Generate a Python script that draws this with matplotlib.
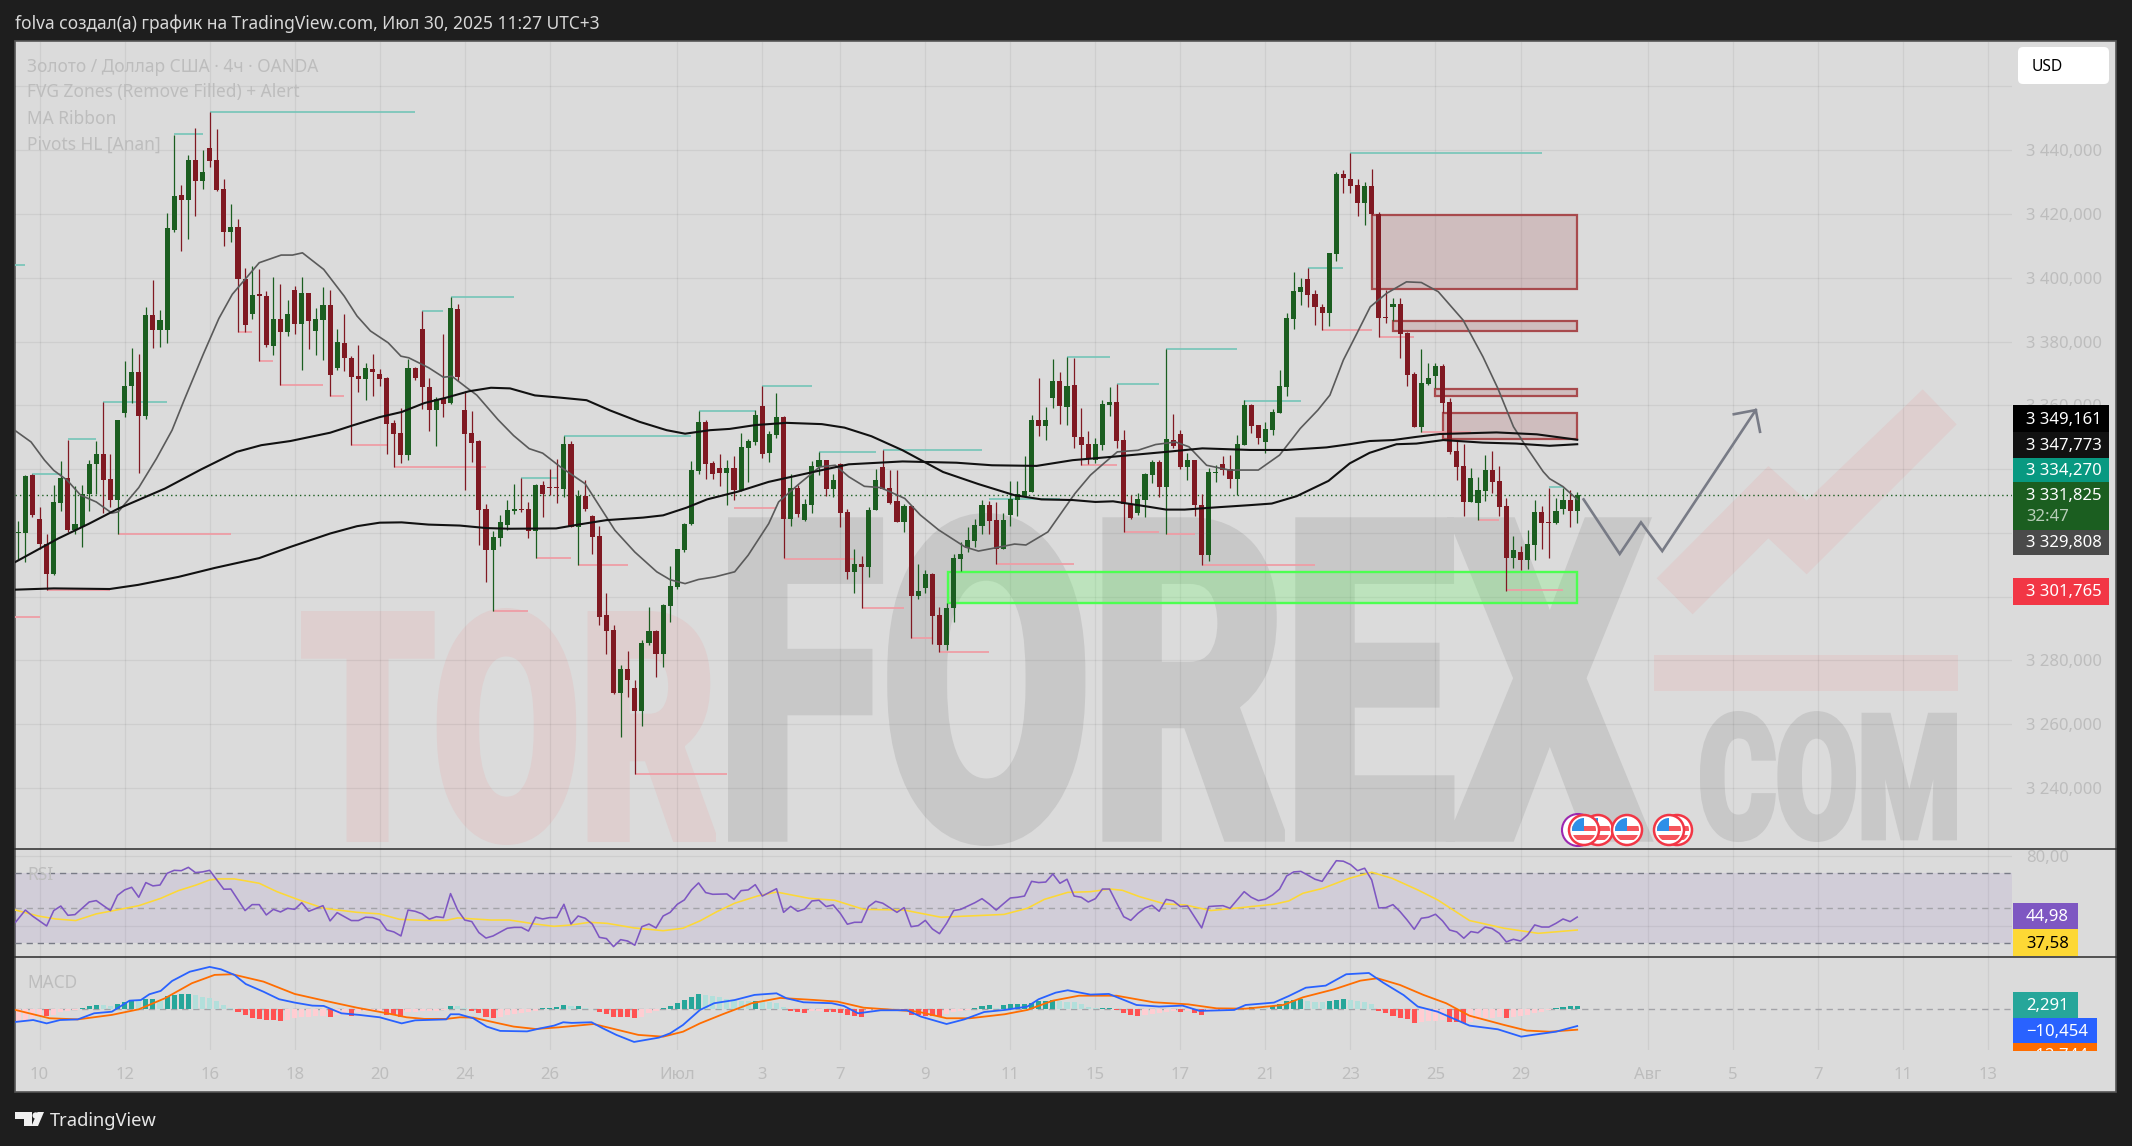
import numpy as np
import matplotlib
matplotlib.use("Agg")
import matplotlib.pyplot as plt
import matplotlib.patheffects as pe
from matplotlib.patches import Rectangle, Circle, Polygon, FancyBboxPatch
from matplotlib.transforms import Affine2D, Bbox

plt.rcParams['font.family'] = ['Noto Sans', 'DejaVu Sans']

W, H = 2132, 1146

# ---------- candles ----------
opens = [3320.0,3320,3338,3324.3,3316.6,3307,3329.3,3337.1,3321,3322,
 3332.1,3341.5,3344.6,3336.8,3330.2,3357.5,3365.9,3370.4,3356.7,3388.3,
 3383.6,3383.6,3415,3425.8,3424.5,3436.8,3430.3,3440.7,3436.8,3427.9,
 3414.3,3415.9,3399.6,3388.5,3394.6,3394.4,3378.6,3387,3382.9,3396.2,
 3385.5,3395.2,3383.4,3386.7,3391.3,3371.6,3379.6,3374.9,3369.2,3368.2,
 3371.3,3369.9,3368.6,3354.3,3351.3,3344.3,3371.7,3384,3365.8,3358.5,
 3362.2,3360.6,3390.1,3358.4,3351.2,3348.7,3327.4,3314.5,3318.4,3322.4,
 3326.8,3327.3,3327.4,3320.6,3334.9,3334.2,3334.2,3333.8,3348,3321.9,
 3331.5,3325.2,3318.9,3294.2,3289.5,3269.8,3277.4,3271.5,3264.2,3285.5,
 3289.1,3281.9,3297,3303,3314.5,3322.7,3339.4,3354.7,3341.9,3340.3,
 3338.7,3340.2,3333.4,3346.6,3348.5,3359.7,3344.9,3350.6,3356.4,3324.4,
 3334.1,3324,3328.8,3340.7,3342.8,3333.7,3341.5,3326.4,3307.8,3310.2,
 3309.4,3327.3,3340.5,3334.2,3330,3323.5,3328.4,3300.2,3302.8,3307.1,
 3294.2,3284.9,3296.4,3311.9,3315.4,3317.5,3322.1,3328.7,3324,3315,
 3325.6,3330.3,3331.7,3332.8,3355.3,3353.5,3362.2,3367.6,3359.5,3366.3,
 3350.1,3347.8,3343,3347.5,3360,3360.9,3349.1,3329.2,3326.3,3330.3,
 3338.1,3342.3,3334.4,3349.1,3351,3340.7,3342.8,3328.7,3313,3338.8,
 3341.5,3339.9,3336.8,3347.5,3360,3353.8,3348.5,3352.2,3357.6,3365.8,
 3387,3395.6,3399.6,3394.9,3390.9,3389,3407.4,3432.5,3430.8,3429,
 3423.4,3428.7,3420.1,3387.6,3390.9,3391.7,3382.7,3369.7,3353.3,3366.6,
 3369.2,3372.3,3361,3345.6,3340.9,3329.8,3329.5,3333.2,3339.7,3336.2,
 3328.4,3312.2,3314,3311.5,3316.2,3326.4,3323.3,3323,3327.5,3330.3,
 3326.8]
closes = [3320.2,3337.7,3325.5,3316.4,3307,3329.6,3337.1,3321,3322.7,3332.3,
 3341.7,3344.6,3336.5,3330.2,3355.3,3366.1,3370.4,3356.7,3388.3,3383.6,
 3386.8,3415.6,3425.6,3424.5,3436.8,3430.3,3433.2,3436.6,3427.5,3414.3,
 3415.9,3399.6,3385.3,3394.7,3394.4,3379,3387,3382.9,3388.6,3385.5,
 3395.2,3386.5,3386.9,3391.3,3369.4,3380,3374.8,3368.8,3368.2,3371.6,
 3370.4,3368.2,3354,3350.9,3344.3,3371.7,3368.6,3365.7,3358.5,3362,
 3360.4,3390.4,3368.9,3350.9,3348.3,3327.1,3314.5,3318.7,3323.3,3327.1,
 3327.4,3327.1,3320.6,3334.9,3332.1,3334,3334,3348,3321.9,3331.5,
 3327.4,3318.7,3293.6,3289.3,3269.9,3277.4,3274,3264.2,3285.6,3289.1,
 3281.9,3297.3,3303.3,3314.9,3322.9,3339.6,3354.7,3341.5,3338.4,3338.7,
 3340.3,3333.4,3346.8,3348.8,3357.1,3344.8,3350.9,3356.4,3324.4,3334.1,
 3325.9,3329,3340.9,3342.8,3333.7,3336.5,3326.3,3307.8,3310.2,3309.4,
 3327.3,3336.5,3333.9,3329.5,3323.5,3328.4,3300.3,3301.7,3307.1,3294,
 3284.9,3296.4,3312,3313.5,3317.7,3322.4,3328.7,3323.8,3315.1,3324,
 3330.6,3332.1,3333,3355.3,3353.5,3355.5,3367.6,3359.7,3366,3350.1,
 3347.5,3343.3,3347.8,3360.4,3360.9,3348.9,3329.2,3324.7,3330.6,3338.4,
 3342.3,3334.4,3349.4,3347.2,3340.7,3342.8,3328.8,3313,3339.1,3339,
 3339.7,3336.8,3347.8,3360,3353.5,3349.7,3352.5,3357.8,3366,3387.3,
 3395.8,3397,3394.6,3390.9,3389,3407.6,3432.5,3431.2,3428.7,3423.4,
 3428.7,3419.9,3387.4,3387.4,3391.7,3382.3,3369.5,3353.3,3366.9,3368.7,
 3372.3,3360.8,3345.4,3340.7,3329.8,3337.2,3333.4,3339.7,3336,3328.2,
 3312.2,3314.6,3311.5,3316.5,3326.4,3323.2,3323.2,3326.8,3330.3,3326.8,
 3331.8]
highs = [3323.6,3338,3338.5,3328,3319.8,3334.9,3342.4,3349.2,3334.6,3335.1,
 3343,3348.7,3360.9,3344.6,3355.5,3373.9,3377.9,3376,3390.9,3399.3,
 3389.9,3420.2,3444.7,3429.2,3438.6,3447,3440,3451.9,3446.7,3430.8,
 3423,3418.5,3403,3403.8,3402.8,3395.8,3400.3,3397.9,3393,3397.5,
 3400.3,3395.2,3390.4,3397.2,3396.3,3383.8,3388.5,3375.4,3379,3373.4,
 3376,3371.3,3369,3355.3,3359.3,3374.4,3372.1,3389.5,3368.6,3362.7,
 3382.3,3393.9,3391.9,3364.4,3358.1,3349,3329,3320.5,3325.5,3330.2,
 3335.2,3337.2,3329.7,3335.4,3336.2,3340.1,3343.3,3350.3,3348.7,3333.4,
 3336.5,3325.5,3322.1,3301,3291,3278.7,3282.9,3274,3286.3,3296.8,
 3289.5,3297.6,3309.5,3315,3323,3342.4,3358.2,3355.5,3342.5,3344.8,
 3343,3344,3351.2,3349.3,3358.5,3366.1,3352,3363.8,3356.6,3338.6,
 3335,3330.6,3342.6,3345.4,3343,3338.6,3342,3327.6,3315.1,3312.7,
 3328,3340,3345.9,3339.7,3339.7,3329.2,3328.7,3310.4,3308.3,3307.3,
 3296.8,3297.9,3313.5,3317,3321.9,3324.5,3330.3,3330,3329.7,3326.1,
 3336.2,3336.2,3344.2,3357.1,3368.7,3359.5,3374.4,3370.3,3375.2,3374.9,
 3359,3351.9,3349.6,3361.6,3365.6,3366.6,3352.4,3331.8,3332.6,3338.8,
 3343,3343,3377.8,3357.4,3352.2,3344.9,3343,3332.3,3340.2,3341.2,
 3344,3344.4,3350.6,3361.6,3360.4,3353.8,3354.8,3358.8,3371,3388.8,
 3401.7,3399.8,3402.9,3396.1,3391.9,3407.8,3433.2,3433.7,3439,3430.8,
 3430,3434,3420.7,3396.1,3393.5,3393.5,3383,3370.3,3377.6,3373.4,
 3373.4,3372.8,3362.4,3349.1,3347.8,3340.2,3337.4,3344.4,3345.6,3340.9,
 3330.8,3318.9,3315.9,3320.9,3330.3,3328.4,3334.2,3331,3334,3333.4,
 3332.7]
lows = [3311.9,3310.8,3325,3314.8,3302,3306.7,3327,3320.2,3319.6,3315.6,
 3327,3332.3,3326.2,3328.1,3319.5,3356.4,3360.6,3338.8,3355.8,3377.9,
 3378.4,3379.6,3414.4,3408.3,3412,3419.5,3427.7,3434.7,3427.2,3409.9,
 3411.2,3383,3383,3386.9,3373.9,3378.2,3375.8,3366.5,3381.6,3382.5,
 3371,3377.5,3375.9,3374.2,3362.9,3371,3370.7,3347.7,3364.3,3361.7,
 3363,3366,3344.6,3340.7,3341.9,3343,3368,3358.7,3352,3347.3,
 3356.2,3360.3,3367.6,3333.4,3342.2,3316.1,3304.6,3295.4,3315.8,3320.8,
 3325.8,3326.6,3318.4,3312.1,3325,3331.8,3329.4,3331.3,3321.7,3310,
 3327,3313.3,3291,3281.9,3269.4,3256,3268.6,3244.3,3259.5,3284.8,
 3274.8,3278,3292.1,3302.4,3314,3322.6,3338.4,3337,3336.8,3334.6,
 3328.7,3330.3,3333.2,3336,3347.5,3343.5,3342.3,3349.6,3312,3322.1,
 3325,3323.6,3326.3,3338.1,3331.6,3331.1,3321.9,3305.4,3301,3296.4,
 3306.2,3327.1,3333.7,3329.2,3323.4,3320.3,3287.2,3299.4,3301,3285.3,
 3282.7,3283.2,3292.1,3308.1,3314,3315.6,3319.8,3319.8,3310.2,3315,
 3322.1,3325.2,3331.7,3332.7,3350.3,3349.1,3359.3,3354.1,3353.8,3346.5,
 3341.2,3341.5,3341.8,3345.9,3356.7,3346.5,3320.3,3324.5,3325.6,3325,
 3335.5,3331.3,3319.6,3346.5,3340,3336.5,3325.2,3309.9,3311.2,3336,
 3338.1,3334.1,3331.8,3347.5,3351.4,3347.8,3345.1,3350.6,3357.6,3363,
 3383.9,3391.4,3390.9,3385.1,3383.6,3384.9,3405.3,3426.6,3426.6,3419.4,
 3416.5,3419.6,3381.5,3385.9,3386.5,3374.9,3366.1,3353.1,3351.7,3366.3,
 3365.3,3357.5,3344.7,3336.6,3325.4,3329.8,3324,3330,3332.6,3325.4,
 3301.9,3309,3308.3,3308.6,3311.5,3314.9,3312.2,3322.8,3325.9,3321.9,
 3323.2]

# ---------- moving averages ----------
gray_x = [-0.4,1.8,3.7,5,6.9,8.8,11,13.2,14.1,17,19.5,21.7,23.4,26.1,28.3,30.2,34,37.1,38.7,40.1,43.1,46,47.8,49.7,52.2,54,55.1,57.9,60,61.2,63.3,64.7,67.7,69.9,72.1,74,76.5,80,83,84.2,87,90.1,92,94.1,96,98.3,101.1,103,105.9,107.3,110,113.1,115.3,117.2,119.4,121.7,125.1,127.3,129.9,133.6,135.5,138.1,140.6,142.2,145.3,149.1,151.3,153.2,155.1,158,160.5,163.3,165.2,167.7,170.9,175,178,180.9,183.4,185.1,187,188.9,190.8,193.1,195.9,198,200.4,203.9,206.7,208.8,211,212.8,215.2,216.1,218,220]
gray_y = [3352,3348.5,3342.8,3339.6,3336.5,3331.8,3329.7,3326.2,3326.6,3334.2,3343.3,3352.2,3361.6,3376,3387.2,3394.8,3404.7,3407.1,3407.1,3407.8,3402.6,3394.2,3388,3383.3,3379.6,3375.4,3374.9,3371.8,3368.8,3369.1,3365.5,3363.2,3355.5,3350.5,3346.4,3345,3340.7,3335.4,3325,3320.8,3314,3307.8,3305.3,3304.1,3305.4,3306.2,3307.8,3313,3322.9,3329.7,3335,3340.7,3341.2,3337.6,3334.6,3334.2,3330.8,3325.6,3320.9,3315.6,3314.3,3315.4,3316.5,3316.2,3320.3,3332.3,3338.1,3341.8,3345.4,3345.9,3347.7,3348.5,3347,3341.2,3339.7,3339.7,3344.4,3352.7,3358.5,3363.2,3374.2,3382.5,3390.9,3395.1,3398.7,3398.5,3395.6,3386.7,3375.2,3365.3,3353.3,3347,3339.2,3337,3334.5,3330.5]

black_a_x = [-0.4,5.6,10,14.1,16.3,20.7,25.8,30.8,34.3,38.4,44,47.2,51,54.1,57.3,60.4,63.6,66.7,69.4,72.9,76.5,80.2,83.5,87.7,91.5,94.1,97.6,100.4,104,108.4,113.4,116.6,120.4,124.8,130.5,135.5,140.6,144.4,148.8,152,154.5,159.5,162,164.6,169,173.8,176.9,180.4,184.9,187.9,190.7,194.5,197.3,201.1,206.7,211.4,216.1,220]
black_a_y = [3310.9,3318.2,3322.9,3327.6,3329.7,3333.9,3339.9,3345.4,3347.5,3348.8,3351.4,3353.7,3356.3,3357.9,3360.7,3362.4,3364.4,3365.5,3365.3,3363.1,3362.4,3361.6,3358.4,3354.8,3352.2,3351.1,3352.2,3352.6,3353.8,3354.5,3354.1,3353,3350.3,3345.9,3339.1,3335.3,3331.8,3330.5,3330.3,3329.7,3329.9,3328.2,3327.3,3327.3,3328,3328.7,3329.2,3331.5,3336.3,3341.8,3345.1,3347.8,3348,3349.1,3348.3,3348,3347.3,3347.8]

black_b_x = [-0.4,5,12.9,16.9,22.6,27.7,34,38.4,44,47.8,51,54.1,57.9,62.3,66.1,69.3,75.9,79.3,83,88.2,91,94.3,97.2,100.4,101.5,105.9,112.2,117.2,124.8,132.4,137.4,143.7,148.8,155.1,162,167.1,173.8,179,184.6,187.9,190.7,194,197.3,200.6,203.9,208.6,214.3,220]
black_b_y = [3302.2,3302.6,3302.4,3303.7,3306.2,3309,3312.1,3315.6,3319.8,3322.1,3323.2,3323.3,3322.6,3322.3,3321.5,3321.3,3321.4,3322.7,3324,3324.8,3325.5,3327.9,3330.5,3332.3,3332.9,3336,3339.1,3341.5,3342.4,3342,3341.2,3341,3342.8,3344,3345.4,3346.5,3346,3346,3346.8,3347.8,3348.8,3349.1,3350.1,3351,3351.2,3351.5,3350.9,3349.2]

# ---------- pivots (price, from candle, to candle) ----------
pivot_high = [(3404,-0.5,1),(3338.4,2,6),(3349.3,7,11),(3360.9,12,21),(3444.9,22,26),(3451.9,27,56),(3389.5,57,60),(3394,61,70),(3337.2,71,76),(3350.5,77,95),(3358.2,96,104),(3366.1,105,112),(3345.3,113,121),(3346,122,136),(3330.5,137,147),(3375.2,148,154),(3366.6,155,161),(3377.8,162,172),(3361.5,173,181),(3403,182,187),(3439,188,215),(3334.5,216,218)]
pivot_low = [(3293.5,-0.5,3),(3302.2,4,13),(3319.5,14,30),(3383,31,33),(3374,34,36),(3366.5,37,43),(3362.9,44,46),(3347.7,47,52),(3340.6,53,66),(3295.4,67,72),(3312.1,73,78),(3310,79,86),(3244.3,87,100),(3327.8,101,107),(3311.9,108,118),(3296.4,119,125),(3287.2,126,129),(3282.7,130,137),(3310.2,138,149),(3341.3,150,155),(3320.4,156,161),(3319.7,162,166),(3309.9,167,183),(3383.6,184,191),(3381.5,192,197),(3351.6,198,205),(3324,206,209),(3302,210,218)]

# ---------- FVG zones (top, bottom, from candle, to candle) ----------
fvg_red = [(3419.6,3396.4,191,220),(3386.5,3383.3,194,220),(3365.2,3362.9,200,220),(3357.7,3349.4,201,220)]
fvg_green = [(3307.6,3298,131.2,220)]

# ---------- drawn arrow ----------
arrow_x = [220.9,226,229,232,245.2]
arrow_y = [3330.5,3313.4,3323.3,3314.3,3358.5]
head_x = [242.1,245.2,245.8]
head_y = [3357.2,3358.5,3351.7]

# ---------- RSI ----------
rsi_x = [-0.4,1,2,4,5,6,7,8,9,10,11,13,14,15,16,17,18,19,20,21,22,23,24,25,26,27,29,30,32,33,34,35,36,37,38,39,40,41,43,44,45,47,48,49,50,51,52,53,54,55,56,57,58,59,60,61,62,63,64,65,66,67,69,70,71,72,73,74,75,76,77,78,79,80,81,82,83,84,85,86,87,88,89,90,91,92,93,94,95,96,
 97,98,100,101,102,103,104,105,107,108,109,110,111,112,113,114,115,116,117,118,119,120,121,122,124,125,126,127,128,129,130,131,132,133,134,135,136,137,138,139,140,141,142,143,144,145,146,147,148,149,150,151,152,153,154,156,157,158,159,160,161,162,163,164,165,167,168,169,170,171,173,174,175,176,177,178,179,180,181,182,183,184,186,187,188,189,190,191,192,193,194,195,196,197,198,199,200,201,202,203,204,205,206,207,208,209,210,211,212,213,214,215,216,217,218,219,220]
rsi_y = [42,49,45.6,39.9,48.7,51.3,46,46.4,50,53.6,54.4,48.7,57.4,60.5,62,56.3,64.7,62.8,63.3,70,71.7,71.5,73.4,70.4,70.8,71.7,60.9,61,48.7,52.1,52.1,46.2,49.4,47.9,50,49.4,53.2,48.3,51.5,42.8,47.5,43,43,44.9,44.7,43.3,37.6,36.5,34.2,49,48.3,46.8,43.8,45.2,44.7,58.4,49,43.3,42.4,36.1,33,34.2,38.6,39.1,39.1,37,44.9,43.9,44.7,44.7,52.3,41,45.6,44.3,41,33.4,32.7,28.1,32.1,31.3,28.9,39.5,41,38.8,45.6,47.7,52.3,54.8,60.5,64.5,
 59,58,58.2,55.1,60.1,60.5,63.5,57,61.2,47.7,51.1,48.3,49.6,54.2,54.6,51,51.9,47.1,40.9,42,42,51,54,52.9,47.7,50.4,39.5,40.1,43.1,38.2,35.5,41.4,48.7,49.4,51.3,53.2,55.5,52.5,49,52.5,55.9,56.3,57,65.4,64.7,65,69.6,64.3,66.6,57,56.3,53.6,55.5,61,61,45.2,43.1,47.1,50.2,51.7,48.3,55.1,54.2,51,51.3,38.8,51,51.3,51.5,50,59.5,56.3,54.4,55.2,57.6,61,68.5,70.8,71.1,68.9,66.6,65.4,77.2,76.9,75,71.5,72.9,66.2,50.2,50.4,52.1,48.1,43.3,38,44.3,44.9,46.6,42.8,37.6,36.5,32.9,36.7,36,39.3,38.4,35.7,30.8,32.3,31.3,34.8,40.5,39.3,39.3,41.4,43.9,42.4,44.98]
rsi_ma_x = [-0.4,2.8,5.3,8.1,11,13.2,17,20.1,22.6,25.1,27,28.3,30.5,34,36.5,39.6,43.1,47.8,51,53.8,57.3,60.4,62,66.7,69.3,73,75.6,78.1,80.6,83.1,86.9,91,93.8,96.2,98.6,101.1,104.3,107,111.6,115.2,119.3,125,130.2,139.1,142.4,144.8,148.1,151.3,154.1,155.8,158.2,161.8,164.7,168.3,171.6,177.2,179.3,181.3,184.1,187.8,191,193.9,197.5,200.3,204.8,209.7,214.5,220]
rsi_ma_y = [49,45.6,43.9,43,46.8,48.5,51.5,55.7,60.1,63.3,66.2,66.8,66.8,64.3,59.5,54.8,50,47.7,46.8,43.7,43.1,43.1,44.5,43.3,43.3,41,39.7,40.5,42,41.4,38.8,37.2,38.6,42.8,48.1,52.9,57,59.3,55.7,54.6,49.4,49,44.9,46.5,50,55.1,59.1,59.5,61,60.3,56.7,52.5,51.9,48.7,50,52.3,54.2,58.6,61.4,67.1,70.6,67.1,60.5,54.8,43,38.6,35.7,37.58]

# ---------- MACD ----------
macd_x = [-0.4,2.1,4,5.9,8.4,10.7,13.2,15.7,17.3,18.5,20.1,21.7,24.2,27,28.6,30.5,32.1,34.6,36.8,39,41.5,43.1,45.6,48.1,51,54.1,56,60.4,61,62.2,64.2,66.1,68,71.8,73.7,75.6,76.9,78.1,80.9,82.5,84.4,86.9,90.4,92,93.8,96.2,98.2,101.1,103.9,107,108.4,110.8,114.8,116.5,118.5,121.7,125.4,127.4,131,133.5,136.3,139.2,142.4,144,146.4,148.1,151.3,153.9,157.8,161,164.3,166.7,171.6,173.2,177.2,179.3,181.7,184.5,187.4,190.6,192.6,195.5,197.5,200.3,204.8,208.8,212.1,213.7,217,220]
macd_y = [-7.9,-6.7,-8.8,-6.7,-6.3,-2.5,-1.5,5.4,5.8,9.4,11.5,17.7,23.5,26.5,25,21.5,15.8,11,6.3,4.2,2.3,2.1,-2.5,-3.5,-5,-8.8,-6.9,-6.3,-3.1,-3.1,-5.6,-10.8,-13.5,-13.8,-11.9,-10.2,-8.1,-8.5,-8.1,-11.9,-16,-20.4,-17.7,-15,-9.8,-0.4,3.8,5.8,9,10,6.9,4.4,3.8,2.1,-2.5,-0.6,-0.6,-4.6,-9.2,-6.3,-1.7,-0.4,1.7,6.3,10.4,11.9,9.2,9.6,2.7,1.7,2.3,-1,-0.4,2.7,4.2,8.3,13.5,14.8,21.9,22.7,16.7,8.9,1.7,-1.5,-10.2,-12.5,-17.1,-16,-14,-10.454]
signal_x = [-0.4,4.4,8.4,13.2,17,20.7,24.5,27.7,30.2,34.6,39,43.4,47.8,51.6,54.8,57.3,60.4,62.3,64.2,66.7,69.9,73,76.2,81.2,83.7,87.5,91,93.8,96.2,99.4,103.5,107.5,112.4,115.6,119.3,123.8,127,131,134.3,139.2,142.4,146,149.7,155,160.2,165.1,169.1,173.2,178.5,181.3,185.7,189.4,191.8,195,198.3,201.5,204.8,209.7,212.9,216.1,220]
signal_y = [-0.4,-5.6,-6.3,-3.5,0,6.9,16.3,21.5,21.9,17.3,9.6,5.2,1,-2.1,-5,-6,-6,-5,-5.2,-7.7,-10.8,-12.3,-11.3,-9.2,-11.9,-16,-17.1,-14,-8.8,-3.1,3.8,7.1,5.8,4.8,1,-0.4,-1.5,-5.6,-5.6,-3.1,-0.4,5.4,8.5,8.5,4.4,3.1,0.6,0.4,2.7,7.5,12.5,17.9,19.4,15.2,9,3.8,-4,-9.8,-13.3,-14,-12.744]
hist = [-7.3,-6.5,-5.2,-3.6,-4.2,-3.5,-1.5,-1,-0.5,1,
 2,2.7,2.5,2,3.3,4.6,5.6,5.2,6.5,6.6,
 5.2,8.3,9,9.6,9.7,9,7.9,7.3,5.2,2.7,
 0.6,-1.7,-3.5,-5.2,-6,-6.6,-6.9,-7.1,-6.7,-5.2,
 -4.8,-4.6,-4.4,-4.2,-4.6,-3.3,-3.1,-4,-1.5,-1.2,
 -1,-0.8,-3.5,-3.6,-4.6,-1.7,-1.5,-1.3,-1,-0.8,
 -0.5,2,1.8,1,-1,-2.5,-4.6,-5.2,-4.6,-3.8,
 -3.1,-2.5,-1.8,-0.8,0.8,1,1.7,2.7,2,2.1,
 1,0.2,-1.5,-2.9,-4.6,-5,-5.1,-5.2,-4.6,-2.5,
 -1,0.8,2,3.8,5.8,7.5,9.6,9,8.3,7.5,
 6.7,5.8,5.4,5.1,5.2,5,4.6,4.2,1.7,-0.8,
 -1.7,-2.3,-1,-0.8,-1.7,-1.8,-2.4,-3.5,-4.2,-4.8,
 -2.5,-1.2,-1,-0.5,-0.3,-0.4,-3.3,-3.7,-3.9,-4,
 -4.6,-2.9,-1.7,-1,-0.5,1,2.3,2.7,1,2.7,
 3.3,3.4,3.5,3.8,5,5.2,5.6,5,4.8,4.4,
 3.5,1.7,0.8,0.9,1,-0.2,-2,-3.3,-4,-3.3,
 -2.7,-2.3,-1.7,-1,-1.5,-1,-2.1,-3.3,-1.5,-1,
 -0.8,-0.4,0.3,1,1.7,1,0.6,2.3,3.3,5,
 5.8,6.3,5.2,4.8,4.6,5,5.8,6.5,5.8,5,
 4.6,3.5,-1,-2.5,-4,-5.2,-6.3,-8.3,-7.7,-7.3,
 -7,-6.7,-7.7,-7.9,-8.3,-7.7,-6.7,-5.6,-5.2,-5,
 -5.2,-4.8,-4.2,-3.3,-2.5,-1.9,-0.6,1,1.3,1.9,
 2.291]

# ---------- axis labels ----------
date_pos = [3,15,27,39,51,63,75,93,105,116,128,140,152,164,176,188,200,212,230,242,254,266,278]
date_lab = ["10","12","16","18","20","24","26","Июл","3","7","9","11","15","17","21","23","25","29","Авг","5","7","11","13"]
price_ticks = [3240,3260,3280,3300,3320,3340,3360,3380,3400,3420,3440,3460]
price_lab = ["3 240,000","3 260,000","3 280,000","","","","3 360,000","3 380,000","3 400,000","3 420,000","3 440,000",""]
legend_lines = ["Золото / Доллар США · 4ч · OANDA","FVG Zones (Remove Filled) + Alert","MA Ribbon","Pivots HL [Anan]"]

# ---------- colours ----------
BG='#1E1E1E'; PANE='#DBDBDB'; TXT='#BDBDBD'
UP='#1B5E20'; DN='#801922'; WM_GRAY='#C8C8C8'; WM_PINK='#DECFCF'
GRID=dict(color='black',alpha=0.06,lw=0.9)

fig = plt.figure(figsize=(W/100,H/100),dpi=100,facecolor=BG)
PX = Affine2D().scale(1,-1).translate(0,H)

def axes_px(x0,y0,x1,y1):
    a = fig.add_axes([x0/W,1-y1/H,(x1-x0)/W,(y1-y0)/H])
    a.patch.set_visible(False)
    for s in a.spines.values(): s.set_visible(False)
    a.tick_params(length=0)
    a.set_axisbelow(True)
    return a

XL=(-0.466,281.36)
# pane
fig.add_artist(Rectangle((15,41),2101,1051,transform=PX,fc=PANE,ec='#555555',lw=1.2,zorder=-5))

ax = axes_px(15,42,2012,849.3)
ax.set_xlim(*XL); ax.set_ylim(3220.8,3473.9)
ax.set_xticks(date_pos); ax.set_xticklabels([])
ax.yaxis.tick_right()
ax.set_yticks(price_ticks); ax.set_yticklabels(price_lab,color=TXT,fontsize=12)
ax.tick_params(axis='y',pad=10)
ax.grid(True,**GRID)

# watermark: real text fitted to the logo's box and thickened by a stroke
class FitBox(pe.AbstractPathEffect):
    def __init__(self,x0,y0,x1,y1,stroke_px):
        super().__init__(); self.b=(x0,y0,x1,y1); self.s=stroke_px
    def draw_path(self,renderer,gc,tpath,affine,rgbFace=None):
        x0,y0,x1,y1=self.b; s=self.s
        x0+=s/2; y0+=s/2; x1-=s/2; y1-=s/2
        e=tpath.transformed(affine).get_extents()
        T=Affine2D().translate(-e.x0,-e.y0).scale((x1-x0)/e.width,(y1-y0)/e.height).translate(x0,H-y1)
        g=renderer.new_gc(); g.copy_properties(gc)
        g.set_linewidth(s*72/100); g.set_foreground(rgbFace); g.set_joinstyle('miter')
        renderer.draw_path(g,tpath,affine+T,rgbFace)
        g.restore()

def mark(s,box,col,stroke):
    ax.text(box[0],box[3],s,transform=PX,fontsize=40,family=['Roboto','DejaVu Sans'],weight='bold',
            color=col,zorder=0.4,clip_on=False,path_effects=[FitBox(*box,stroke)])
mark("TOR",(301,608,716,845),WM_PINK,11)
mark("FOREX",(728,513,1650,846),WM_GRAY,15)
mark("COM",(1700,711,1957,842),WM_GRAY,7)
ax.add_patch(Rectangle((1654,655),304,36,transform=PX,fc=WM_PINK,ec='none',zorder=0.4))
arrow_px=[(350,595),(685,258),(800,362),(1148,28),(1250,133),(800,583),(685,475),(458,703)]
ax.add_patch(Polygon([(1540+a/3,380+b/3) for a,b in arrow_px],transform=PX,fc=WM_PINK,ec='none',zorder=0.4))

# FVG
for top,bot,a,b in fvg_red:
    ax.add_patch(Rectangle((a,bot),b-a,top-bot,fc=(159/255,69/255,74/255,0.2),ec='#A84A4D',lw=1.6,zorder=1.5))
for top,bot,a,b in fvg_green:
    ax.add_patch(Rectangle((a,bot),b-a,top-bot,fc=(100/255,252/255,100/255,0.25),ec='#4CFF50',lw=1.7,zorder=1.5))

# pivots
for p,a,b in pivot_high:
    ax.hlines(p,a,b,color='#7CC6BA',lw=1.3,zorder=2)
for p,a,b in pivot_low:
    ax.hlines(p,a,b,color='#EE9DA5',lw=1.3,zorder=2)

# candles
o=np.array(opens);c=np.array(closes);hi=np.array(highs);lo=np.array(lows)
idx=np.arange(len(o))
cols=np.where(c>=o,UP,DN)
ax.vlines(idx,lo,hi,colors=cols,lw=0.9,zorder=3)
ax.bar(idx,np.maximum(np.abs(c-o),0.35),bottom=np.minimum(o,c),width=0.72,color=cols,lw=0,zorder=3.1)

# MAs
ax.plot(gray_x,gray_y,color='#5A5A5A',lw=1.2,zorder=4)
ax.plot(black_a_x,black_a_y,color='#111111',lw=1.5,zorder=4)
ax.plot(black_b_x,black_b_y,color='#111111',lw=1.5,zorder=4)

# last price
ax.axhline(closes[-1],color=UP,lw=1.0,ls=(0,(1,2.2)),zorder=2.5)

# user arrow
ax.plot(arrow_x,arrow_y,color='#787B86',lw=1.9,zorder=4.5,solid_joinstyle='miter')
ax.plot(head_x,head_y,color='#787B86',lw=1.9,zorder=4.5,solid_joinstyle='miter')

# RSI
ar = axes_px(15,849.3,2012,957.3)
ar.set_xlim(*XL)
ar.set_ylim(30-(957.3-943.3)/1.75,70+(873.3-849.3)/1.75)
ar.set_xticks(date_pos); ar.set_xticklabels([])
ar.yaxis.tick_right()
ar.set_yticks([40,80]); ar.set_yticklabels(["","80,00"],color=TXT,fontsize=12)
ar.tick_params(axis='y',pad=10)
ar.grid(True,**GRID)
ar.axhspan(30,70,color='#7E57C2',alpha=0.1,lw=0,zorder=1)
for v,cc in [(70,'#787B86'),(50,'#A3A3A8'),(30,'#787B86')]:
    ar.axhline(v,color=cc,lw=1,ls=(0,(4.5,3.5)),zorder=1.5)
ar.plot(rsi_ma_x,rsi_ma_y,color='#FDD835',lw=1.15,zorder=3)
ar.plot(rsi_x,rsi_y,color='#7E57C2',lw=1.15,zorder=3.2)

# MACD
am = axes_px(15,957.3,2012,1050)
am.set_xlim(*XL)
am.set_ylim(-(1050-1009.3)/1.6,(1009.3-957.3)/1.6)
am.set_yticks([])
am.set_xticks(date_pos); am.set_xticklabels(date_lab,color=TXT,fontsize=12)
am.tick_params(axis='x',pad=12)
am.grid(True,axis='x',**GRID)
am.axhline(0,color='#A3A3A8',lw=1,ls=(0,(4.5,3.5)),zorder=1)
hv=np.array(hist); prev=np.r_[hv[0]-1,hv[:-1]]
hc=np.where(hv>=0,np.where(hv>prev,'#26A69A','#B2DFDB'),np.where(hv>prev,'#FFCDD2','#FF5252'))
am.bar(np.arange(len(hv)),hv,width=0.72,color=hc,lw=0,zorder=2)
am.plot(signal_x,signal_y,color='#FF6D00',lw=1.3,zorder=3)
am.plot(macd_x,macd_y,color='#2962FF',lw=1.3,zorder=3.2)

# separators
for y in (849.3,957.3):
    fig.add_artist(plt.Line2D([15,2116],[y,y],transform=PX,color='#2A2A2A',lw=1.1,zorder=6))

def txt(x,y,s,**k):
    k.setdefault('va','center'); k.setdefault('ha','left')
    return fig.text(x,y,s,transform=PX,**k)

# header/footer
txt(15,24,"folva создал(а) график на TradingView.com, Июл 30, 2025 11:27 UTC+3",color='#D8D8D8',fontsize=12.5)
txt(50,1121,"TradingView",color='#E6E6E6',fontsize=13.2)
fig.add_artist(Polygon([(15,1112),(32,1112),(32,1126),(23.5,1126),(23.5,1119),(15,1119)],transform=PX,fc='#F0F0F0',ec='none',zorder=6))
fig.add_artist(Circle((35.7,1115.5),3.2,transform=PX,fc='#F0F0F0',ec='none',zorder=6))
fig.add_artist(Polygon([(37.5,1112),(44,1112),(38,1126),(31.5,1126)],transform=PX,fc='#F0F0F0',ec='none',zorder=6))

# legend
for yy,s in zip((66.5,92.5,118.5,144.5),legend_lines):
    txt(27,yy,s,color=TXT,fontsize=12.5)
txt(27,874.5,"RSI",color=TXT,fontsize=12.5)
txt(27,982.5,"MACD",color=TXT,fontsize=12.5)

# USD
fig.add_artist(FancyBboxPatch((2022,51),83,29,boxstyle="round,pad=4,rounding_size=5",transform=PX,fc='white',ec='none',zorder=6))
txt(2032,67,"USD",color='black',fontsize=11.3,zorder=7)

# price labels
def pricebox(y0,y1,col,s,tc='white',x1=2109,tx=2026,sy=None,clip=None,fs=12):
    fig.add_artist(Rectangle((2013,y0),x1-2013,y1-y0,transform=PX,fc=col,ec='none',zorder=6))
    t=txt(tx,(y0+y1)/2+1 if sy is None else sy,s,color=tc,fontsize=fs,weight='bold',zorder=7)
    if clip is not None:
        t.set_clip_box(Bbox.from_extents(*clip)); t.set_clip_on(True)
pricebox(405,432,'#000000',"3 349,161")
pricebox(432,458,'#111111',"3 347,773")
pricebox(458,482,'#089981',"3 334,270",sy=471)
pricebox(482,530,'#1B5E20',"3 331,825",sy=496)
txt(2026,517,"32:47",color='#B8CDB9',fontsize=12,zorder=7)
pricebox(530,555,'#4A4A4A',"3 329,808",sy=543)
pricebox(578,605,'#F23645',"3 301,765")
pricebox(903,929,'#7E57C2',"44,98",x1=2078)
pricebox(929,956,'#FDD835',"37,58",tc='black',x1=2078)
pricebox(992,1018,'#26A69A',"2,291",x1=2078)
pricebox(1018,1043,'#2962FF',"−10,454",x1=2097)
pricebox(1043,1051,'#FF6D00',"−12,744",x1=2097,sy=1056,clip=(2013,H-1051,2097,H-1043))

# event flags
def flag(cx,cy=830,ring='#F23645'):
    z=6
    fig.add_artist(Circle((cx,cy),15,transform=PX,fc='white',ec=ring,lw=1.8,zorder=z))
    inner=Circle((cx,cy),12,transform=PX,fc='white',ec='none',zorder=z)
    fig.add_artist(inner)
    for y0,hh in [(cy-4,5),(cy+5,5)]:
        r=Rectangle((cx-13,y0),26,hh,transform=PX,fc='#F5555C',ec='none',zorder=z)
        fig.add_artist(r); r.set_clip_path(inner)
    r=Rectangle((cx-13,cy-13),13,14,transform=PX,fc='#2E8FE8',ec='none',zorder=z)
    fig.add_artist(r); r.set_clip_path(inner)
fig.add_artist(Circle((1578,830),16,transform=PX,fc='white',ec='#9C27B0',lw=1.5,zorder=5.9))
flag(1598); flag(1584); flag(1627); flag(1677); flag(1669)

fig.savefig("out.png",dpi=100,facecolor=BG)
